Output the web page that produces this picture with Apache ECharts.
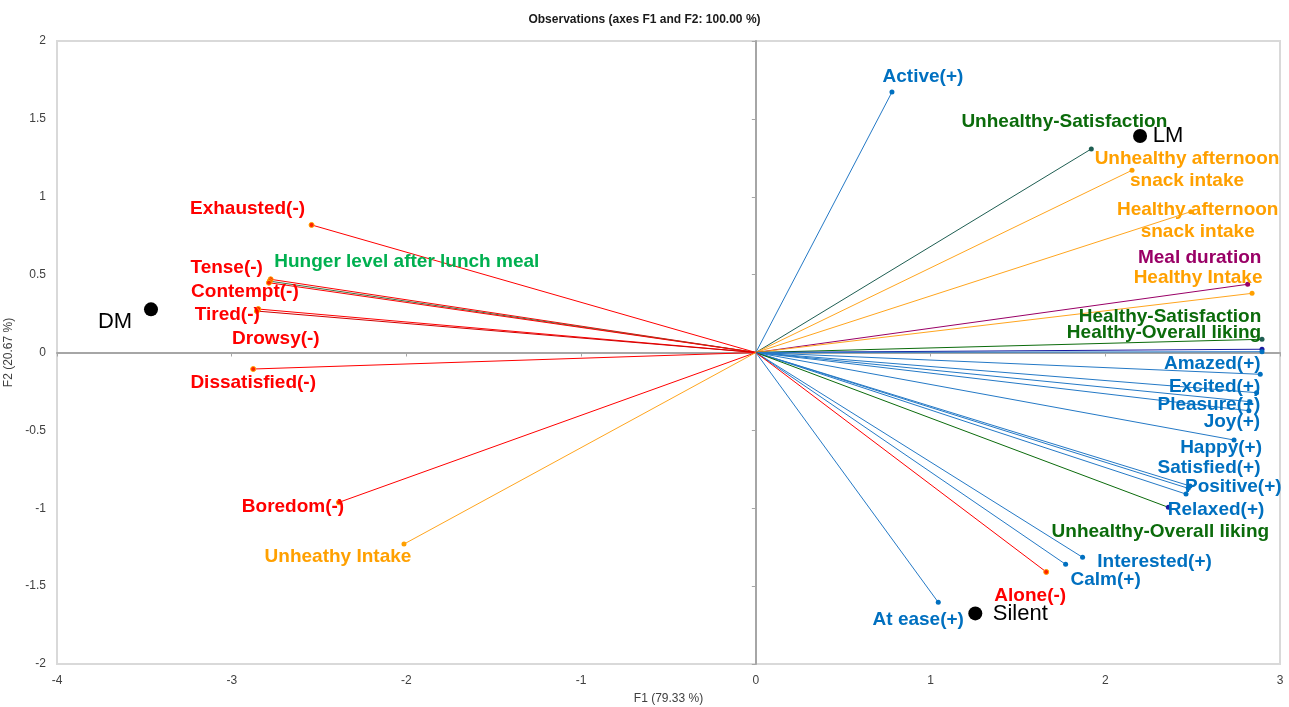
<!DOCTYPE html>
<html>
<head>
<meta charset="utf-8">
<title>Observations (axes F1 and F2)</title>
<script src="https://cdn.jsdelivr.net/npm/echarts@6/dist/echarts.min.js"></script>
<style>
  html, body { margin: 0; padding: 0; background: #ffffff; }
  #chart { width: 1289px; height: 707px; }
</style>
</head>
<body>
<div id="chart"></div>
<script>
// ---- Variable loadings on F1 / F2 ----
const varNames = [
  'Active(+)', 'Unhealthy-Satisfaction', 'Unhealthy afternoon\nsnack intake',
  'Healthy afternoon\nsnack intake', 'Meal duration', 'Healthy Intake',
  'Healthy-Satisfaction', 'Healthy-Overall liking', '',
  'Amazed(+)', 'Excited(+)', 'Pleasure(+)', 'Joy(+)', 'Happy(+)',
  'Satisfied(+)', 'Positive(+)', 'Relaxed(+)', 'Unhealthy-Overall liking',
  'Interested(+)', 'Calm(+)', 'Alone(-)', 'At ease(+)',
  'Exhausted(-)', 'Tense(-)', 'Hunger level after lunch meal', 'Contempt(-)',
  'Tired(-)', 'Drowsy(-)', 'Dissatisfied(-)', 'Boredom(-)', 'Unheathy Intake'
];
const varF1 = [
  0.779, 1.920, 2.153,
  2.489, 2.815, 2.840,
  2.897, 2.897, 2.897,
  2.887, 2.866, 2.828, 2.822, 2.737,
  2.485, 2.475, 2.462, 2.361,
  1.870, 1.773, 1.662, 1.044,
  -2.543, -2.777, -2.782, -2.787,
  -2.848, -2.856, -2.877, -2.386, -2.014
];
const varF2 = [
  1.672, 1.307, 1.170,
  0.904, 0.438, 0.380,
  0.085, 0.021, 0.005,
  -0.140, -0.258, -0.316, -0.374, -0.562,
  -0.857, -0.872, -0.909, -0.994,
  -1.315, -1.360, -1.409, -1.604,
  0.819, 0.470, 0.458, 0.448,
  0.279, 0.266, -0.106, -0.962, -1.230
];
const varGroup = [
  'pos', 'unhSat', 'intake',
  'intake', 'duration', 'intake',
  'liking', 'likingNavy', 'pos',
  'pos', 'pos', 'pos', 'pos', 'pos',
  'pos', 'pos', 'pos', 'unhLiking',
  'pos', 'pos', 'neg', 'pos',
  'neg', 'neg', 'hunger', 'neg',
  'neg', 'negDark', 'neg', 'neg', 'intake'
];

// ---- Observations ----
const obsNames = ['DM', 'LM', 'Silent'];
const obsF1 = [-3.462, 2.199, 1.256];
const obsF2 = [0.277, 1.390, -1.675];

// ---- Axis ticks ----
const xTickValues = [-4, -3, -2, -1, 0, 1, 2, 3];
const yTickValues = [-2, -1.5, -1, -0.5, 0, 0.5, 1, 1.5, 2];

// ---- Styling ----
const groupStyle = {
  pos:        { text: '#0070C0', line: '#2479C6', dot: '#0070C0' },
  neg:        { text: '#FF0000', line: '#FF0000', dot: '#FF2000', border: '#FFA500' },
  negDark:    { text: '#FF0000', line: '#D00000', dot: '#FF2000', border: '#FFA500' },
  intake:     { text: '#FFA000', line: '#FFA51E', dot: '#FFA000' },
  duration:   { text: '#990066', line: '#990066', dot: '#990066' },
  hunger:     { text: '#00B050', line: '#3E7446', dot: '#FF3000', border: '#FFA500' },
  unhSat:     { text: '#0B6B0B', line: '#1E5E52', dot: '#1E5E52' },
  liking:     { text: '#0B6B0B', line: '#0B6B0B', dot: '#1E5E52' },
  likingNavy: { text: '#0B6B0B', line: '#1A1AA0', dot: '#1A1AA0' },
  unhLiking:  { text: '#0B6B0B', line: '#0B6B0B', dot: '#1A1AA0' }
};

// label centre offsets (px) from each vector tip
const labelOffset = {
  'Active(+)': [31, -17],
  'Unhealthy-Satisfaction': [-27, -29],
  'Unhealthy afternoon\nsnack intake': [55, -2],
  'Healthy afternoon\nsnack intake': [7, 8],
  'Meal duration': [-48, -28],
  'Healthy Intake': [-54, -17],
  'Healthy-Satisfaction': [-92, -24],
  'Healthy-Overall liking': [-98, -18],
  'Amazed(+)': [-48, -12],
  'Excited(+)': [-42, -7],
  'Pleasure(+)': [-41, 2],
  'Joy(+)': [-17, 10],
  'Happy(+)': [-13, 6],
  'Satisfied(+)': [19, -20],
  'Positive(+)': [45, -3],
  'Relaxed(+)': [30, 14],
  'Unhealthy-Overall liking': [-8, 23],
  'Interested(+)': [72, 3],
  'Calm(+)': [40, 14],
  'Alone(-)': [-16, 22],
  'At ease(+)': [-20, 16],
  'Exhausted(-)': [-64, -18],
  'Tense(-)': [-44, -13],
  'Hunger level after lunch meal': [137, -21],
  'Contempt(-)': [-24, 8],
  'Tired(-)': [-31, 4],
  'Drowsy(-)': [19, 26],
  'Dissatisfied(-)': [0, 12],
  'Boredom(-)': [-46, 3],
  'Unheathy Intake': [-66, 11]
};
const obsLabelOffset = { DM: [-36, 13], LM: [28, 0], Silent: [45, 1] };
const LABEL_NUDGE_Y = 1.5;

const FONT = "'Liberation Sans', Arial, Helvetica, sans-serif";
const AXIS_GREY = '#A6A6A6';
const TEXT_GREY = '#404040';

const step = (arr) => arr[1] - arr[0];

const vectorLines = varNames.map((n, i) => ({
  coords: [[0, 0], [varF1[i], varF2[i]]],
  lineStyle: { color: groupStyle[varGroup[i]].line, width: 1, opacity: 1 }
}));

const vectorTips = varNames.map((n, i) => {
  const st = groupStyle[varGroup[i]];
  const off = labelOffset[n] || [0, 0];
  return {
    name: n,
    value: [varF1[i], varF2[i]],
    itemStyle: { color: st.dot, borderColor: st.border || st.dot, borderWidth: st.border ? 1 : 0, opacity: 1 },
    label: {
      show: n !== '',
      color: st.text,
      offset: [off[0], off[1] + LABEL_NUDGE_Y]
    }
  };
});

const obsPoints = obsNames.map((n, i) => ({
  name: n,
  value: [obsF1[i], obsF2[i]],
  label: { offset: obsLabelOffset[n] }
}));

const chart = echarts.init(document.getElementById('chart'), null, { renderer: 'canvas' });

const baseX = {
  type: 'value',
  min: xTickValues[0],
  max: xTickValues[xTickValues.length - 1],
  interval: step(xTickValues),
  splitLine: { show: false }
};
const baseY = {
  type: 'value',
  min: yTickValues[0],
  max: yTickValues[yTickValues.length - 1],
  interval: step(yTickValues),
  splitLine: { show: false }
};

chart.setOption({
  animation: false,
  backgroundColor: '#ffffff',
  textStyle: { fontFamily: FONT },
  title: {
    text: 'Observations (axes F1 and F2: 100.00 %)',
    left: 'center',
    top: 9,
    textStyle: { fontFamily: FONT, fontSize: 12, fontWeight: 'bold', color: '#1a1a1a' }
  },
  grid: {
    left: 57, right: 9, top: 41, bottom: 43,
    outerBoundsMode: 'none',
    containLabel: false,
    show: true,
    borderColor: '#D9D9D9',
    borderWidth: 2,
    backgroundColor: 'transparent'
  },
  xAxis: [
    Object.assign({}, baseX, {
      position: 'bottom',
      axisLine: { show: false, onZero: false },
      axisTick: { show: false },
      axisLabel: { color: TEXT_GREY, fontSize: 12, margin: 11, fontFamily: FONT },
      name: 'F1 (79.33 %)',
      nameLocation: 'middle',
      nameGap: 29,
      nameTextStyle: { color: TEXT_GREY, fontSize: 12, fontFamily: FONT }
    }),
    Object.assign({}, baseX, {
      axisLine: { show: true, onZero: true, onZeroAxisIndex: 0, lineStyle: { color: AXIS_GREY, width: 2 } },
      axisTick: { show: true, inside: true, length: 4, lineStyle: { color: AXIS_GREY, width: 1 } },
      axisLabel: { show: false }
    })
  ],
  yAxis: [
    Object.assign({}, baseY, {
      position: 'left',
      axisLine: { show: false, onZero: false },
      axisTick: { show: false },
      axisLabel: { color: TEXT_GREY, fontSize: 12, margin: 11, fontFamily: FONT },
      name: 'F2 (20.67 %)',
      nameLocation: 'middle',
      nameGap: 36,
      nameRotate: 90,
      nameTextStyle: { color: TEXT_GREY, fontSize: 12, fontFamily: FONT }
    }),
    Object.assign({}, baseY, {
      axisLine: { show: true, onZero: true, onZeroAxisIndex: 0, lineStyle: { color: AXIS_GREY, width: 2 } },
      axisTick: { show: true, inside: true, length: 4, lineStyle: { color: AXIS_GREY, width: 1 } },
      axisLabel: { show: false }
    })
  ],
  series: [
    {
      name: 'vectors',
      type: 'lines',
      coordinateSystem: 'cartesian2d',
      xAxisIndex: 0,
      yAxisIndex: 0,
      polyline: false,
      silent: true,
      z: 3,
      lineStyle: { width: 1, opacity: 1 },
      data: vectorLines
    },
    {
      name: 'variables',
      type: 'scatter',
      xAxisIndex: 0,
      yAxisIndex: 0,
      symbol: 'circle',
      symbolSize: 5,
      silent: true,
      z: 4,
      itemStyle: { opacity: 1 },
      label: {
        show: true,
        position: 'inside',
        formatter: (p) => p.name,
        fontFamily: FONT,
        fontSize: 19,
        fontWeight: 'bold',
        align: 'center',
        verticalAlign: 'middle',
        lineHeight: 22
      },
      data: vectorTips
    },
    {
      name: 'observations',
      type: 'scatter',
      xAxisIndex: 0,
      yAxisIndex: 0,
      symbol: 'circle',
      symbolSize: 14,
      silent: true,
      z: 5,
      itemStyle: { color: '#000000', opacity: 1 },
      label: {
        show: true,
        position: 'inside',
        formatter: (p) => p.name,
        fontFamily: FONT,
        fontSize: 22,
        color: '#000000',
        align: 'center',
        verticalAlign: 'middle'
      },
      data: obsPoints
    }
  ]
});
</script>
</body>
</html>
